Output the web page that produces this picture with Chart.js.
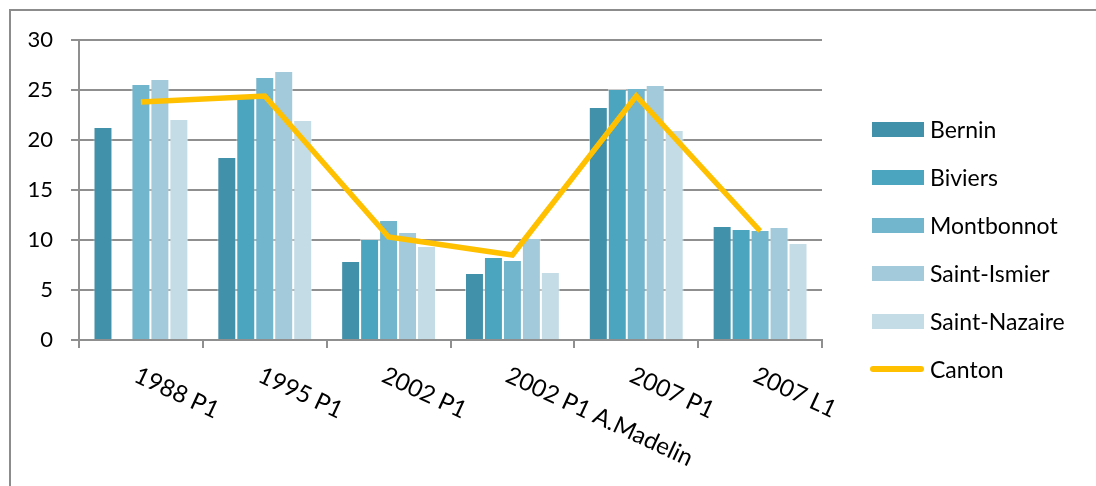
<!DOCTYPE html>
<html>
<head>
<meta charset="utf-8">
<script src="https://cdn.jsdelivr.net/npm/chart.js@4/dist/chart.umd.min.js"></script>
<style>
  html, body { margin: 0; padding: 0; background: #fff; overflow: hidden; }
  #wrap { position: relative; width: 1096px; height: 486px; }
  #frame {
    position: absolute; left: 9px; top: 9px; width: 1200px; height: 600px;
    border-left: 2px solid #8c8c8c; border-top: 2px solid #8c8c8c;
  }
  #chart { position: absolute; left: 0; top: 0; }
  #legend { position: absolute; left: 868px; top: 105px; font: 23px Lato, sans-serif; color: #000; }
  .item { position: relative; height: 48px; display: flex; align-items: center; }
  .box { width: 52px; height: 15px; margin-left: 4px; margin-right: 6px; }
  .lineMark { width: 54px; height: 6px; border-radius: 3px; margin-left: 2px; margin-right: 6px; }
</style>
</head>
<body>
<div id="wrap">
  <div id="frame"></div>
  <canvas id="chart" width="1096" height="486"></canvas>
  <div id="legend"></div>
</div>
<script>
// categories (x axis)
const categories = ["1988 P1", "1995 P1", "2002 P1", "2002 P1 A.Madelin", "2007 P1", "2007 L1"];

// series values
const bernin = [21.3, 18.3, 7.9, 6.7, 23.3, 11.4];
const biviers = [null, 24.3, 10.1, 8.3, 25.1, 11.1];
const montbonnot = [25.6, 26.3, 12.0, 8.0, 25.2, 11.0];
const saintIsmier = [26.1, 26.9, 10.8, 10.2, 25.5, 11.3];
const saintNazaire = [22.1, 22.0, 9.4, 6.8, 21.0, 9.7];
const canton = [23.8, 24.4, 10.3, 8.5, 24.4, 10.9];

// y axis ticks
const yTicks = [0, 5, 10, 15, 20, 25, 30];

const barSeries = [
  { name: "Bernin", data: bernin, color: "#4191aa" },
  { name: "Biviers", data: biviers, color: "#4ba5bf" },
  { name: "Montbonnot", data: montbonnot, color: "#72b6cd" },
  { name: "Saint-Ismier", data: saintIsmier, color: "#a2cadb" },
  { name: "Saint-Nazaire", data: saintNazaire, color: "#c3dce5" },
];
const cantonColor = "#ffc000";
const gridColor = "#8f8f8f";

// slanted x labels, drawn like the excel ones (going down to the right)
const slantedLabels = {
  id: "slantedLabels",
  afterDraw(chart) {
    const ctx = chart.ctx;
    const xScale = chart.scales.x;
    ctx.save();
    ctx.font = "24px Lato";
    ctx.fillStyle = "#000";
    ctx.textAlign = "left";
    ctx.textBaseline = "top";
    categories.forEach((label, i) => {
      const x = xScale.getPixelForTick(i);
      ctx.save();
      ctx.translate(x, xScale.top + 23);
      ctx.rotate(25 * Math.PI / 180);
      ctx.fillText(label, 0, 0);
      ctx.restore();
    });
    ctx.restore();
  },
};

const datasets = barSeries.map((s) => ({
  type: "bar",
  label: s.name,
  data: s.data,
  backgroundColor: s.color,
  borderColor: "rgba(255,255,255,0.55)",
  borderWidth: 1,
  borderSkipped: "bottom",
  categoryPercentage: 0.766,
  barPercentage: 1.0,
  order: 1,
}));

datasets.push({
  type: "line",
  label: "Canton",
  data: canton,
  borderColor: cantonColor,
  backgroundColor: cantonColor,
  borderWidth: 5.5,
  pointRadius: 0,
  tension: 0,
  order: 0,
});

new Chart(document.getElementById("chart"), {
  type: "bar",
  data: { labels: categories, datasets: datasets },
  options: {
    responsive: false,
    animation: false,
    layout: { padding: { top: 40, right: 274, left: 0, bottom: 0 } },
    plugins: { legend: { display: false }, tooltip: { enabled: false } },
    scales: {
      x: {
        offset: true,
        afterFit: (scale) => { scale.height = 146; },
        grid: { display: true, drawOnChartArea: false, drawTicks: true, tickLength: 8, color: gridColor, lineWidth: 2 },
        border: { display: true, color: gridColor, width: 2 },
        ticks: { display: false },
      },
      y: {
        min: 0,
        max: 30,
        afterFit: (scale) => { scale.width = 79; },
        afterBuildTicks: (scale) => { scale.ticks = yTicks.map((v) => ({ value: v })); },
        grid: { color: gridColor, lineWidth: 2, tickLength: 8 },
        border: { display: true, color: gridColor, width: 2 },
        ticks: { color: "#000", font: { family: "Lato", size: 22 }, padding: 18 },
      },
    },
  },
  plugins: [slantedLabels],
});

// legend on the right
const legend = document.getElementById("legend");
barSeries.forEach((s) => {
  const row = document.createElement("div");
  row.className = "item";
  row.innerHTML = `<span class="box" style="background:${s.color}"></span><span>${s.name}</span>`;
  legend.appendChild(row);
});
const cantonRow = document.createElement("div");
cantonRow.className = "item";
cantonRow.innerHTML = `<span class="lineMark" style="background:${cantonColor}"></span><span>Canton</span>`;
legend.appendChild(cantonRow);
</script>
</body>
</html>
